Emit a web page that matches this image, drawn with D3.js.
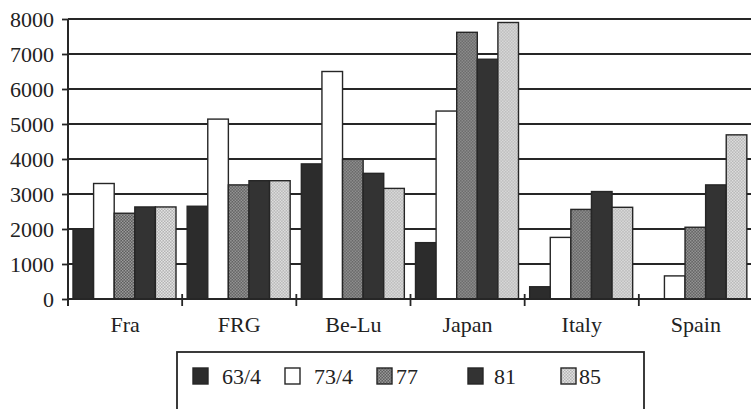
<!DOCTYPE html>
<html>
<head>
<meta charset="utf-8">
<script src="https://cdn.jsdelivr.net/npm/d3@7/dist/d3.min.js"></script>
<style>
  html, body { margin: 0; padding: 0; background: #fff; }
  svg { display: block; }
</style>
</head>
<body>
<svg id="chart" width="751" height="409"></svg>
<script>
// Countries along the x axis
const categories = ["Fra", "FRG", "Be-Lu", "Japan", "Italy", "Spain"];
// Series (years) shown in the legend
const seriesNames = ["63/4", "73/4", "77", "81", "85"];
// Values per series, in category order
const s63 = [2000, 2650, 3860, 1610, 350, 0];
const s73 = [3300, 5140, 6500, 5370, 1760, 660];
const s77 = [2450, 3260, 3990, 7620, 2560, 2050];
const s81 = [2630, 3380, 3590, 6850, 3070, 3260];
const s85 = [2630, 3380, 3160, 7900, 2620, 4690];
const seriesValues = [s63, s73, s77, s81, s85];
// Y-axis tick labels
const yTicks = [0, 1000, 2000, 3000, 4000, 5000, 6000, 7000, 8000];

const serif = "'Liberation Serif', 'Times New Roman', Times, 'DejaVu Serif', serif";
const svg = d3.select("#chart");
const plotLeft = 68, plotBottom = 299, plotTop = 19, plotRight = 753;
const ink = "#262626";

// Fill patterns: dark solids, white, and two dithered greys
const defs = svg.append("defs");
function checker(id, a, b) {
  const p = defs.append("pattern").attr("id", id)
    .attr("width", 3).attr("height", 3).attr("patternUnits", "userSpaceOnUse");
  p.append("rect").attr("width", 3).attr("height", 3).attr("fill", a);
  p.append("rect").attr("width", 1.5).attr("height", 1.5).attr("fill", b);
  p.append("rect").attr("x", 1.5).attr("y", 1.5).attr("width", 1.5).attr("height", 1.5).attr("fill", b);
}
checker("p77", "#5e5e5e", "#9a9a9a");
checker("p85", "#b4b4b4", "#e2e2e2");
const fills = ["#2c2c2c", "#ffffff", "url(#p77)", "#333333", "url(#p85)"];

const y = d3.scaleLinear().domain([0, 8000]).range([plotBottom, plotTop]);
const x0 = d3.scaleBand().domain(categories).range([plotLeft, plotRight]).padding(0);
const x1 = d3.scaleBand().domain(seriesNames).range([5, 108]).padding(0);

// Horizontal gridlines
svg.append("g").selectAll("line").data(yTicks.filter(d => d > 0)).join("line")
  .attr("x1", plotLeft).attr("x2", 751)
  .attr("y1", d => y(d)).attr("y2", d => y(d))
  .attr("stroke", ink).attr("stroke-width", 1.8);

// Bars
const groups = svg.append("g").selectAll("g").data(categories).join("g")
  .attr("transform", c => `translate(${x0(c)},0)`);
groups.selectAll("rect")
  .data((c, i) => seriesNames.map((s, k) => ({ s, k, v: seriesValues[k][i] })))
  .join("rect")
  .filter(d => d.v > 0)
  .attr("x", d => x1(d.s))
  .attr("y", d => y(d.v))
  .attr("width", x1.bandwidth())
  .attr("height", d => plotBottom - y(d.v))
  .attr("fill", d => fills[d.k])
  .attr("stroke", ink).attr("stroke-width", 1.4);

// Y axis
const yAxis = d3.axisLeft(y).tickValues(yTicks).tickSize(6).tickPadding(8).tickFormat(d3.format("d"));
const gy = svg.append("g").attr("transform", `translate(${plotLeft},0)`).call(yAxis)
  .attr("font-family", serif).attr("font-size", 22);
gy.select(".domain").attr("stroke", ink).attr("stroke-width", 2).attr("d", `M0,${plotTop}V${plotBottom + 7}`);
gy.selectAll(".tick line").attr("stroke", ink).attr("stroke-width", 1.8);
gy.selectAll(".tick text").attr("fill", "#222").attr("dy", "0.34em");

// X axis with ticks between categories
const gx = svg.append("g").attr("font-family", serif).attr("font-size", 22).attr("fill", "#222");
gx.append("line").attr("x1", plotLeft).attr("x2", 751).attr("y1", plotBottom).attr("y2", plotBottom)
  .attr("stroke", ink).attr("stroke-width", 2);
gx.selectAll("line.sep").data(categories.slice(1)).join("line").attr("class", "sep")
  .attr("x1", c => x0(c)).attr("x2", c => x0(c))
  .attr("y1", plotBottom - 5).attr("y2", plotBottom + 7)
  .attr("stroke", ink).attr("stroke-width", 1.8);
gx.selectAll("text").data(categories).join("text")
  .attr("x", c => x0(c) + x0.bandwidth() / 2)
  .attr("y", 332)
  .attr("text-anchor", "middle")
  .text(c => c);

// Legend
const lg = svg.append("g").attr("font-family", serif).attr("font-size", 22).attr("fill", "#222");
lg.append("rect").attr("x", 177).attr("y", 352).attr("width", 467).attr("height", 80)
  .attr("fill", "none").attr("stroke", ink).attr("stroke-width", 1.8);
const legendX = [193, 285, 377, 468, 561];
const legendTextOffset = [29, 29, 19, 26, 18];
const item = lg.selectAll("g").data(seriesNames).join("g")
  .attr("transform", (d, i) => `translate(${legendX[i]},368)`);
item.append("rect").attr("width", 15).attr("height", 16)
  .attr("fill", (d, i) => fills[i]).attr("stroke", ink).attr("stroke-width", 1.4);
item.append("text").attr("x", (d, i) => legendTextOffset[i]).attr("y", 16)
  .text(d => d);
</script>
</body>
</html>
